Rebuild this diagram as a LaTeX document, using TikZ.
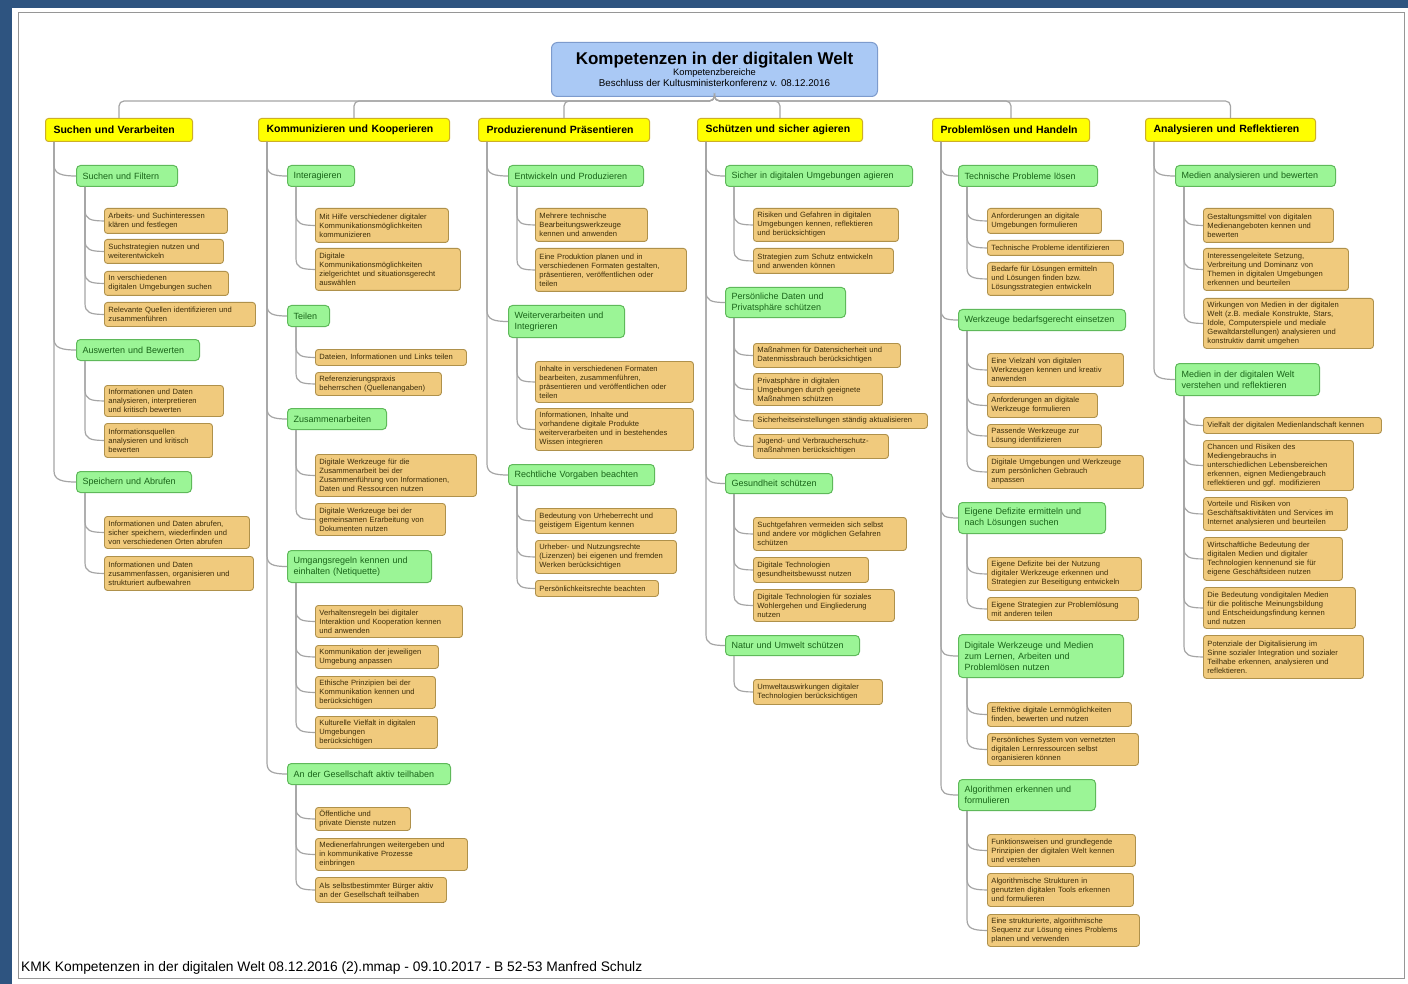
\documentclass[tikz,border=0pt]{standalone}
\usepackage{fontspec}
\setmainfont{Liberation Sans}

\newlength{\du}
\setlength{\du}{1pt}

\definecolor{bgblue}{RGB}{46,84,128}
\definecolor{frameline}{RGB}{150,150,150}
\definecolor{titlefill}{RGB}{170,201,245}
\definecolor{titleline}{RGB}{125,155,205}
\definecolor{headfill}{RGB}{255,255,0}
\definecolor{headline}{RGB}{205,175,40}
\definecolor{subfill}{RGB}{155,245,150}
\definecolor{subline}{RGB}{95,185,90}
\definecolor{subtext}{RGB}{25,100,25}
\definecolor{leaffill}{RGB}{240,202,125}
\definecolor{leafline}{RGB}{175,145,75}
\definecolor{leaftext}{RGB}{60,45,10}
\definecolor{conngray}{RGB}{165,165,165}

\tikzset{
  box/.style={draw, anchor=north west, align=left, inner ysep=1\du,
    execute at begin node={\hyphenpenalty=10000}},
  hw/.code={\pgfmathsetlengthmacro\tw{#1*1pt-16pt}\tikzset{text width=\tw}},
  sw/.code={\pgfmathsetlengthmacro\tw{#1*1pt-12pt}\tikzset{text width=\tw}},
  lw/.code={\pgfmathsetlengthmacro\tw{#1*1pt-8pt}\tikzset{text width=\tw}},
  kmktitle/.style={draw=titleline, fill=titlefill, line width=1\du, rounded corners=6\du,
    anchor=north west, align=center, minimum width=326\du, minimum height=54\du},
  header/.style={box, fill=headfill, draw=headline, line width=1\du, rounded corners=3\du,
    inner xsep=8\du, minimum height=23\du, text=black,
    font=\fontsize{10.5}{12}\selectfont\bfseries},
  sub/.style={box, fill=subfill, draw=subline, line width=1\du, rounded corners=4\du,
    inner xsep=6\du, minimum height=21\du, text=subtext,
    font=\fontsize{9}{11}\selectfont},
  leaf/.style={box, fill=leaffill, draw=leafline, line width=0.9\du, rounded corners=3\du,
    inner xsep=4\du, text=leaftext, font=\fontsize{7.6}{9}\selectfont},
  conn/.style={draw=conngray, line width=1.2\du},
  branch/.style={to path={([xshift=9\du]\tikztostart.south west)
    -- ([xshift=9\du,yshift=11\du]\tikztostart.south west |- \tikztotarget.west)
    .. controls +(0,9) and +(-14,0) .. (\tikztotarget.west)}}
}

\begin{document}
\begin{tikzpicture}[x=1\du,y=-1\du]
\useasboundingbox (0,0) rectangle (1408,984);
% page
\fill[bgblue] (0,0) rectangle (1408,984);
\fill[white] (12,8) rectangle (1408,984);
\draw[frameline, line width=0.8\du] (18,12) rectangle (1404,978);

% title
\node[kmktitle] (title) at (551,42) {%
  {\fontsize{17}{19}\selectfont\bfseries Kompetenzen in der digitalen Welt}\\[-1\du]
  {\fontsize{9.3}{11}\selectfont Kompetenzbereiche}\\[-1\du]
  {\fontsize{9.8}{11}\selectfont Beschluss der Kultusministerkonferenz v. 08.12.2016}};

% Kompetenzbereiche
\node[header, hw=147] (h1) at (45,118) {Suchen und Verarbeiten};
\node[header, hw=191] (h2) at (258,118) {Kommunizieren und Kooperieren};
\node[header, hw=171] (h3) at (478,118) {Produzierenund Präsentieren};
\node[header, hw=165] (h4) at (697,118) {Schützen und sicher agieren};
\node[header, hw=157] (h5) at (932,118) {Problemlösen und Handeln};
\node[header, hw=170] (h6) at (1145,118) {Analysieren und Reflektieren};

% 1 Suchen und Verarbeiten
\node[sub, sw=101] (s11) at (76,165) {Suchen und Filtern};
\node[leaf, lw=123, minimum height=25\du] (l111) at (104,208) {Arbeits- und Suchinteressen\\klären und festlegen};
\node[leaf, lw=119, minimum height=24\du] (l112) at (104,239) {Suchstrategien nutzen und\\weiterentwickeln};
\node[leaf, lw=124, minimum height=24\du] (l113) at (104,271) {In verschiedenen\\digitalen Umgebungen suchen};
\node[leaf, lw=151, minimum height=24\du] (l114) at (104,302) {Relevante Quellen identifizieren und\\zusammenführen};
\node[sub, sw=123] (s12) at (76,339) {Auswerten und Bewerten};
\node[leaf, lw=119, minimum height=31\du] (l121) at (104,385) {Informationen und Daten\\analysieren, interpretieren\\und kritisch bewerten};
\node[leaf, lw=108, minimum height=34\du] (l122) at (104,423) {Informationsquellen\\analysieren und kritisch\\bewerten};
\node[sub, sw=115] (s13) at (76,471) {Speichern und Abrufen};
\node[leaf, lw=145, minimum height=32\du] (l131) at (104,516) {Informationen und Daten abrufen,\\sicher speichern, wiederfinden und\\von verschiedenen Orten abrufen};
\node[leaf, lw=149, minimum height=34\du] (l132) at (104,556) {Informationen und Daten\\zusammenfassen, organisieren und\\strukturiert aufbewahren};

% 2 Kommunizieren und Kooperieren
\node[sub, sw=67] (s21) at (287,165) {Interagieren};
\node[leaf, lw=133, minimum height=34\du] (l211) at (315,208) {Mit Hilfe verschiedener digitaler\\Kommunikationsmöglichkeiten\\kommunizieren};
\node[leaf, lw=145, minimum height=42\du] (l212) at (315,248) {Digitale\\Kommunikationsmöglichkeiten\\zielgerichtet und situationsgerecht\\auswählen};
\node[sub, sw=42] (s22) at (287,305) {Teilen};
\node[leaf, lw=151, minimum height=16\du] (l221) at (315,349) {Dateien, Informationen und Links teilen};
\node[leaf, lw=126, minimum height=23\du] (l222) at (315,372) {Referenzierungspraxis\\beherrschen (Quellenangaben)};
\node[sub, sw=99] (s23) at (287,408) {Zusammenarbeiten};
\node[leaf, lw=161, minimum height=42\du] (l231) at (315,454) {Digitale Werkzeuge für die\\Zusammenarbeit bei der\\Zusammenführung von Informationen,\\Daten und Ressourcen nutzen};
\node[leaf, lw=130, minimum height=32\du] (l232) at (315,503) {Digitale Werkzeuge bei der\\gemeinsamen Erarbeitung von\\Dokumenten nutzen};
\node[sub, sw=144, minimum height=32\du] (s24) at (287,550) {Umgangsregeln kennen und\\einhalten (Netiquette)};
\node[leaf, lw=147, minimum height=32\du] (l241) at (315,605) {Verhaltensregeln bei digitaler\\Interaktion und Kooperation kennen\\und anwenden};
\node[leaf, lw=123, minimum height=23\du] (l242) at (315,645) {Kommunikation der jeweiligen\\Umgebung anpassen};
\node[leaf, lw=120, minimum height=32\du] (l243) at (315,676) {Ethische Prinzipien bei der\\Kommunikation kennen und\\berücksichtigen};
\node[leaf, lw=122, minimum height=32\du] (l244) at (315,716) {Kulturelle Vielfalt in digitalen\\Umgebungen\\berücksichtigen};
\node[sub, sw=163] (s25) at (287,763) {An der Gesellschaft aktiv teilhaben};
\node[leaf, lw=95, minimum height=23\du] (l251) at (315,807) {Öffentliche und\\private Dienste nutzen};
\node[leaf, lw=152, minimum height=32\du] (l252) at (315,838) {Medienerfahrungen weitergeben und\\in kommunikative Prozesse\\einbringen};
\node[leaf, lw=131, minimum height=25\du] (l253) at (315,877) {Als selbstbestimmter Bürger aktiv\\an der Gesellschaft teilhaben};

% 3 Produzieren und Praesentieren
\node[sub, sw=135] (s31) at (508,165) {Entwickeln und Produzieren};
\node[leaf, lw=112, minimum height=33\du] (l311) at (535,208) {Mehrere technische\\Bearbeitungswerkzeuge\\kennen und anwenden};
\node[leaf, lw=151, minimum height=43\du] (l312) at (535,248) {Eine Produktion planen und in\\verschiedenen Formaten gestalten,\\präsentieren, veröffentlichen oder\\teilen};
\node[sub, sw=116, minimum height=32\du] (s32) at (508,305) {Weiterverarbeiten und\\Integrieren};
\node[leaf, lw=158, minimum height=41\du] (l321) at (535,361) {Inhalte in verschiedenen Formaten\\bearbeiten, zusammenführen,\\präsentieren und veröffentlichen oder\\teilen};
\node[leaf, lw=158, minimum height=42\du] (l322) at (535,408) {Informationen, Inhalte und\\vorhandene digitale Produkte\\weiterverarbeiten und in bestehendes\\Wissen integrieren};
\node[sub, sw=146] (s33) at (508,464) {Rechtliche Vorgaben beachten};
\node[leaf, lw=141, minimum height=25\du] (l331) at (535,508) {Bedeutung von Urheberrecht und\\geistigem Eigentum kennen};
\node[leaf, lw=141, minimum height=33\du] (l332) at (535,540) {Urheber- und Nutzungsrechte\\(Lizenzen) bei eigenen und fremden\\Werken berücksichtigen};
\node[leaf, lw=123, minimum height=16\du] (l333) at (535,580) {Persönlichkeitsrechte beachten};

% 4 Schuetzen und sicher agieren
\node[sub, sw=187] (s41) at (725,165) {Sicher in digitalen Umgebungen agieren};
\node[leaf, lw=145, minimum height=33\du] (l411) at (753,208) {Risiken und Gefahren in digitalen\\Umgebungen kennen, reflektieren\\und berücksichtigen};
\node[leaf, lw=140, minimum height=25\du] (l412) at (753,248) {Strategien zum Schutz entwickeln\\und anwenden können};
\node[sub, sw=120, minimum height=30\du] (s42) at (725,287) {Persönliche Daten und\\Privatsphäre schützen};
\node[leaf, lw=147, minimum height=24\du] (l421) at (753,343) {Maßnahmen für Datensicherheit und\\Datenmissbrauch berücksichtigen};
\node[leaf, lw=129, minimum height=32\du] (l422) at (753,373) {Privatsphäre in digitalen\\Umgebungen durch geeignete\\Maßnahmen schützen};
\node[leaf, lw=174, minimum height=15\du] (l423) at (753,413) {Sicherheitseinstellungen ständig aktualisieren};
\node[leaf, lw=135, minimum height=24\du] (l424) at (753,434) {Jugend- und Verbraucherschutz-\\maßnahmen berücksichtigen};
\node[sub, sw=107, minimum height=20\du] (s43) at (725,473) {Gesundheit schützen};
\node[leaf, lw=153, minimum height=33\du] (l431) at (753,517) {Suchtgefahren vermeiden sich selbst\\und andere vor möglichen Gefahren\\schützen};
\node[leaf, lw=115, minimum height=25\du] (l432) at (753,557) {Digitale Technologien\\gesundheitsbewusst nutzen};
\node[leaf, lw=141, minimum height=32\du] (l433) at (753,589) {Digitale Technologien für soziales\\Wohlergehen und Eingliederung\\nutzen};
\node[sub, sw=134, minimum height=20\du] (s44) at (725,635) {Natur und Umwelt schützen};
\node[leaf, lw=129, minimum height=25\du] (l441) at (753,679) {Umweltauswirkungen digitaler\\Technologien berücksichtigen};

% 5 Problemloesen und Handeln
\node[sub, sw=139] (s51) at (958,165) {Technische Probleme lösen};
\node[leaf, lw=114, minimum height=25\du] (l511) at (987,208) {Anforderungen an digitale\\Umgebungen formulieren};
\node[leaf, lw=136, minimum height=15\du] (l512) at (987,240) {Technische Probleme identifizieren};
\node[leaf, lw=126, minimum height=33\du] (l513) at (987,262) {Bedarfe für Lösungen ermitteln\\und Lösungen finden bzw.\\Lösungsstrategien entwickeln};
\node[sub, sw=167] (s52) at (958,309) {Werkzeuge bedarfsgerecht einsetzen};
\node[leaf, lw=136, minimum height=33\du] (l521) at (987,353) {Eine Vielzahl von digitalen\\Werkzeugen kennen und kreativ\\anwenden};
\node[leaf, lw=110, minimum height=24\du] (l522) at (987,393) {Anforderungen an digitale\\Werkzeuge formulieren};
\node[leaf, lw=114, minimum height=23\du] (l523) at (987,424) {Passende Werkzeuge zur\\Lösung identifizieren};
\node[leaf, lw=156, minimum height=33\du] (l524) at (987,455) {Digitale Umgebungen und Werkzeuge\\zum persönlichen Gebrauch\\anpassen};
\node[sub, sw=147, minimum height=31\du] (s53) at (958,502) {Eigene Defizite ermitteln und\\nach Lösungen suchen};
\node[leaf, lw=154, minimum height=33\du] (l531) at (987,557) {Eigene Defizite bei der Nutzung\\digitaler Werkzeuge erkennen und\\Strategien zur Beseitigung entwickeln};
\node[leaf, lw=151, minimum height=23\du] (l532) at (987,597) {Eigene Strategien zur Problemlösung\\mit anderen teilen};
\node[sub, sw=165, minimum height=43\du] (s54) at (958,634) {Digitale Werkzeuge und Medien\\zum Lernen, Arbeiten und\\Problemlösen nutzen};
\node[leaf, lw=144, minimum height=24\du] (l541) at (987,702) {Effektive digitale Lernmöglichkeiten\\finden, bewerten und nutzen};
\node[leaf, lw=151, minimum height=32\du] (l542) at (987,733) {Persönliches System von vernetzten\\digitalen Lernressourcen selbst\\organisieren können};
\node[sub, sw=137, minimum height=31\du] (s55) at (958,779) {Algorithmen erkennen und\\formulieren};
\node[leaf, lw=148, minimum height=32\du] (l551) at (987,834) {Funktionsweisen und grundlegende\\Prinzipien der digitalen Welt kennen\\und verstehen};
\node[leaf, lw=146, minimum height=33\du] (l552) at (987,873) {Algorithmische Strukturen in\\genutzten digitalen Tools erkennen\\und formulieren};
\node[leaf, lw=152, minimum height=32\du] (l553) at (987,914) {Eine strukturierte, algorithmische\\Sequenz zur Lösung eines Problems\\planen und verwenden};

% 6 Analysieren und Reflektieren
\node[sub, sw=160] (s61) at (1175,165) {Medien analysieren und bewerten};
\node[leaf, lw=130, minimum height=34\du] (l611) at (1203,208) {Gestaltungsmittel von digitalen\\Medienangeboten kennen und\\bewerten};
\node[leaf, lw=145, minimum height=42\du] (l612) at (1203,248) {Interessengeleitete Setzung,\\Verbreitung und Dominanz von\\Themen in digitalen Umgebungen\\erkennen und beurteilen};
\node[leaf, lw=170, minimum height=50\du] (l613) at (1203,298) {Wirkungen von Medien in der digitalen\\Welt (z.B. mediale Konstrukte, Stars,\\Idole, Computerspiele und mediale\\Gewaltdarstellungen) analysieren und\\konstruktiv damit umgehen};
\node[sub, sw=144, minimum height=32\du] (s62) at (1175,363) {Medien in der digitalen Welt\\verstehen und reflektieren};
\node[leaf, lw=178, minimum height=16\du] (l621) at (1203,417) {Vielfalt der digitalen Medienlandschaft kennen};
\node[leaf, lw=150, minimum height=50\du] (l622) at (1203,440) {Chancen und Risiken des\\Mediengebrauchs in\\unterschiedlichen Lebensbereichen\\erkennen, eignen Mediengebrauch\\reflektieren und ggf. modifizieren};
\node[leaf, lw=144, minimum height=33\du] (l623) at (1203,497) {Vorteile und Risiken von\\Geschäftsaktivitäten und Services im\\Internet analysieren und beurteilen};
\node[leaf, lw=139, minimum height=43\du] (l624) at (1203,537) {Wirtschaftliche Bedeutung der\\digitalen Medien und digitaler\\Technologien kennenund sie für\\eigene Geschäftsideen nutzen};
\node[leaf, lw=152, minimum height=41\du] (l625) at (1203,587) {Die Bedeutung vondigitalen Medien\\für die politische Meinungsbildung\\und Entscheidungsfindung kennen\\und nutzen};
\node[leaf, lw=160, minimum height=43\du] (l626) at (1203,635) {Potenziale der Digitalisierung im\\Sinne sozialer Integration und sozialer\\Teilhabe erkennen, analysieren und\\reflektieren.};

% connectors: title to Kompetenzbereiche
\foreach \h in {h1,h2,h3,h4,h5,h6}
  \draw[conn, rounded corners=5\du] (title.south) -- ++(0,4) -| (\h.north);

% connectors: tree branches
\foreach \p/\c in {h1/s11,h1/s12,h1/s13,
    s11/l111,s11/l112,s11/l113,s11/l114,s12/l121,s12/l122,s13/l131,s13/l132,
    h2/s21,h2/s22,h2/s23,h2/s24,h2/s25,
    s21/l211,s21/l212,s22/l221,s22/l222,s23/l231,s23/l232,
    s24/l241,s24/l242,s24/l243,s24/l244,s25/l251,s25/l252,s25/l253,
    h3/s31,h3/s32,h3/s33,
    s31/l311,s31/l312,s32/l321,s32/l322,s33/l331,s33/l332,s33/l333,
    h4/s41,h4/s42,h4/s43,h4/s44,
    s41/l411,s41/l412,s42/l421,s42/l422,s42/l423,s42/l424,
    s43/l431,s43/l432,s43/l433,s44/l441,
    h5/s51,h5/s52,h5/s53,h5/s54,h5/s55,
    s51/l511,s51/l512,s51/l513,s52/l521,s52/l522,s52/l523,s52/l524,
    s53/l531,s53/l532,s54/l541,s54/l542,s55/l551,s55/l552,s55/l553,
    h6/s61,h6/s62,
    s61/l611,s61/l612,s61/l613,
    s62/l621,s62/l622,s62/l623,s62/l624,s62/l625,s62/l626}
  \draw[conn] (\p) to[branch] (\c);

% footer
\node[anchor=south west, inner sep=0pt, font=\fontsize{13.8}{15}\selectfont] (footer) at (21,975)
  {KMK Kompetenzen in der digitalen Welt 08.12.2016 (2).mmap - 09.10.2017 - B 52-53 Manfred Schulz};
\end{tikzpicture}
\end{document}
